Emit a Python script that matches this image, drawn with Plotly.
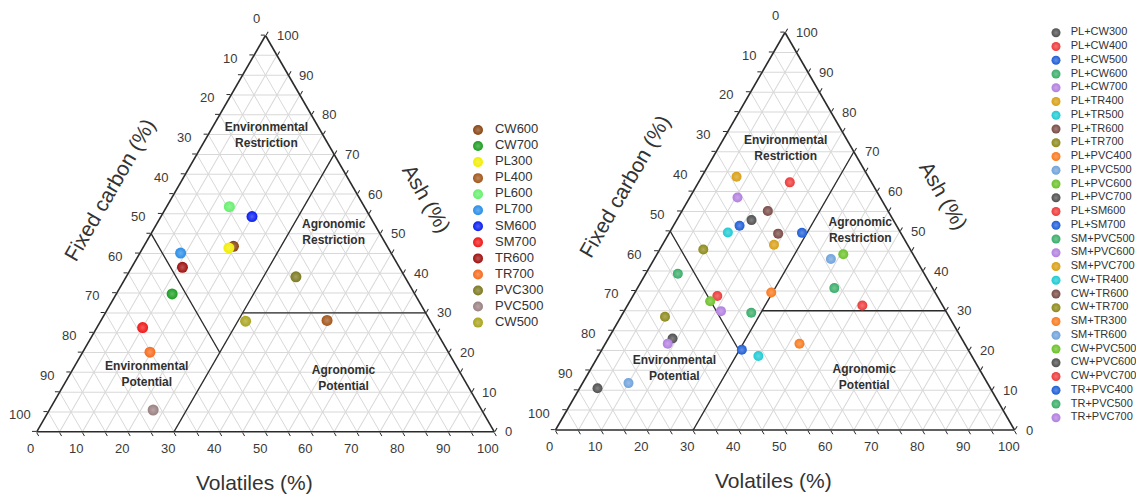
import plotly.graph_objects as go

FONT = "Liberation Sans, Arial, sans-serif"

# ---------------- data: left panel (single feedstocks) ----------------
left_names = ["CW600", "CW700", "PL300", "PL400", "PL600", "PL700", "SM600",
              "SM700", "TR600", "TR700", "PVC300", "PVC500", "CW500"]
left_colors = ["#8a4512", "#1c9e22", "#f2ee00", "#a3561a", "#66f06c", "#2a8ee8",
               "#0a1ef0", "#f01818", "#a01010", "#f76b1c", "#7c7a20", "#9a8082", "#aaa41c"]
left_ash = [46.8, 34.8, 46.4, 28.1, 56.8, 45.1, 54.3, 26.3, 41.5, 20.1, 39.1, 5.5, 27.9]
left_vol = [19.6, 12.2, 18.8, 49.4, 13.7, 8.9, 19.9, 10.0, 11.1, 14.7, 37.1, 22.7, 31.7]
left_fc = [33.6, 53.0, 34.8, 22.5, 29.5, 46.0, 25.8, 63.7, 47.4, 65.2, 23.8, 71.8, 40.4]

# ---------------- data: right panel (blends) ----------------
right_names = ["PL+CW300", "PL+CW400", "PL+CW500", "PL+CW600", "PL+CW700",
               "PL+TR400", "PL+TR500", "PL+TR600", "PL+TR700", "PL+PVC400",
               "PL+PVC500", "PL+PVC600", "PL+PVC700", "PL+SM600", "PL+SM700",
               "SM+PVC500", "SM+PVC600", "SM+PVC700", "CW+TR400", "CW+TR600",
               "CW+TR700", "SM+TR300", "SM+TR600", "CW+PVC500", "CW+PVC600",
               "CW+PVC700", "TR+PVC400", "TR+PVC500", "TR+PVC700"]
right_colors = ["#505050", "#ee3a3a", "#1f5fd8", "#3aae6a", "#b27fe0",
                "#d9a016", "#1ecbd4", "#7a4b47", "#8e8a1b", "#f97a1e",
                "#6fa3dc", "#6cc22a", "#505050", "#ee3a3a", "#1f5fd8",
                "#3aae6a", "#b27fe0", "#d9a016", "#1ecbd4", "#7a4b47",
                "#8e8a1b", "#f97a1e", "#6fa3dc", "#6cc22a", "#505050",
                "#ee3a3a", "#1f5fd8", "#3aae6a", "#b27fe0"]
right_ash = [52.8, 62.3, 51.4, 39.3, 58.5, 63.7, 49.7, 55.1, 45.4, 34.6,
             43.0, 44.2, 23.0, 33.7, 49.6, 29.5, 21.7, 46.6, 18.6, 49.4,
             28.5, 21.7, 11.8, 32.4, 10.5, 31.3, 20.2, 35.7, 29.9]
right_vol = [16.3, 19.9, 14.4, 7.0, 10.4, 7.6, 12.7, 18.7, 9.5, 29.7,
             38.5, 40.6, 14.0, 18.4, 28.9, 27.9, 13.6, 24.3, 34.9, 23.8,
             9.6, 42.3, 10.0, 17.5, 3.9, 51.2, 30.5, 42.9, 21.1]
right_fc = [30.9, 17.8, 34.2, 53.7, 31.1, 28.7, 37.6, 26.2, 45.1, 35.7,
            18.5, 15.2, 63.0, 47.9, 21.5, 42.6, 64.7, 29.1, 46.5, 26.8,
            61.9, 36.0, 78.2, 50.1, 85.6, 17.5, 49.3, 21.4, 49.0]

tick_values = [0, 10, 20, 30, 40, 50, 60, 70, 80, 90, 100]

# region boundaries (ash, volatiles, fixed carbon) endpoints
boundary_ash = [[50, 20], [0, 70], [30, 30]]
boundary_vol = [[0, 30], [30, 30], [30, 70]]
boundary_fc = [[50, 50], [70, 0], [40, 0]]

region_labels = ["<b>Environmental<br>Restriction</b>", "<b>Agronomic<br>Restriction</b>",
                 "<b>Environmental<br>Potential</b>", "<b>Agronomic<br>Potential</b>"]
left_region_ash = [74.6, 50.2, 14.3, 13.3]
left_region_vol = [12.9, 39.8, 16.9, 60.4]
right_region_ash = [70.7, 50.0, 15.4, 13.1]
right_region_vol = [14.8, 41.4, 18.2, 60.7]

FIG_W, FIG_H = 1136, 494

# triangle frames in pixels (left x, width, bottom y, height)
LEFT_TRI = (36.7, 457.6, 431.8, 396.3)
RIGHT_TRI = (555.5, 459.0, 430.0, 397.5)


def lighten(hexc, f):
    h = hexc.lstrip("#")
    r, g, b = int(h[0:2], 16), int(h[2:4], 16), int(h[4:6], 16)
    r = int(r + (255 - r) * f); g = int(g + (255 - g) * f); b = int(b + (255 - b) * f)
    return "#%02x%02x%02x" % (r, g, b)


def edge_px(tri, ash, vol):
    x0, w, yb, h = tri
    return x0 + w * (vol + ash / 2.0) / 100.0, yb - h * ash / 100.0


def add_panel(fig, subplot, names, colors, ash, vol, fc, msize, r_ash, r_vol):
    for ba, bv, bf in zip(boundary_ash, boundary_vol, boundary_fc):
        fig.add_trace(go.Scatterternary(a=ba, b=bf, c=bv, mode="lines",
                                        line=dict(color="#2b2b2b", width=1.3),
                                        subplot=subplot, showlegend=False, hoverinfo="skip"))
    for n, c, a, v, f in zip(names, colors, ash, vol, fc):
        fig.add_trace(go.Scatterternary(
            a=[a], b=[f], c=[v], mode="markers", name=n, subplot=subplot, showlegend=False,
            marker=dict(size=msize, color=c, line=dict(width=0),
                        gradient=dict(type="radial", color=lighten(c, 0.3)))))
    fig.add_trace(go.Scatterternary(
        a=r_ash, b=[100 - x - y for x, y in zip(r_ash, r_vol)], c=r_vol, mode="text",
        text=region_labels, textfont=dict(size=12, color="#303030", family=FONT),
        subplot=subplot, showlegend=False, hoverinfo="skip", cliponaxis=False))


def tick_annotations(tri):
    out = []
    tf = dict(size=13, color="#3a3a3a", family=FONT)
    for k in tick_values:
        # left edge: fixed carbon
        x, y = edge_px(tri, 100 - k, 0)
        out.append(dict(text=str(k), x=(x - 5) / FIG_W, y=(FIG_H - (y - 17)) / FIG_H,
                        xanchor="right", yanchor="middle", font=tf))
        # bottom edge: volatiles
        x, y = edge_px(tri, 0, k)
        out.append(dict(text=str(k), x=(x - 6) / FIG_W, y=(FIG_H - (y + 16.5)) / FIG_H,
                        xanchor="center", yanchor="middle", font=tf))
        # right edge: ash
        x, y = edge_px(tri, k, 100 - k)
        out.append(dict(text=str(k), x=(x + 10) / FIG_W, y=(FIG_H - y) / FIG_H,
                        xanchor="left", yanchor="middle", font=tf))
    for an in out:
        an.update(xref="paper", yref="paper", showarrow=False, borderpad=0)
    return out


def add_legend(fig, xa, ya, names, colors, msize, fsize, text_x):
    n = len(names)
    fig.add_trace(go.Scatter(x=[0] * n, y=list(range(n)), mode="markers", xaxis=xa, yaxis=ya,
                             marker=dict(size=msize, color=colors, line=dict(width=0),
                                         gradient=dict(type="radial", color=[lighten(c, 0.3) for c in colors])),
                             showlegend=False, hoverinfo="skip", cliponaxis=False))
    fig.add_trace(go.Scatter(x=[text_x] * n, y=list(range(n)), mode="text", text=names,
                             textposition="middle right", xaxis=xa, yaxis=ya,
                             textfont=dict(size=fsize, color="#333333", family=FONT),
                             showlegend=False, hoverinfo="skip", cliponaxis=False))


fig = go.Figure()
add_panel(fig, "ternary", left_names, left_colors, left_ash, left_vol, left_fc, 11,
          left_region_ash, left_region_vol)
add_panel(fig, "ternary2", right_names, right_colors, right_ash, right_vol, right_fc, 10,
          right_region_ash, right_region_vol)
add_legend(fig, "x", "y", left_names, left_colors, 10, 13, 0.207)
add_legend(fig, "x2", "y2", right_names, right_colors, 9, 11, 0.184)


def tern_axis():
    return dict(title=dict(text=""), showticklabels=False, ticks="outside", ticklen=4,
                tickwidth=1.2, tickcolor="#2b2b2b", dtick=5, tick0=0,
                showline=True, linecolor="#2b2b2b", linewidth=1.6,
                showgrid=True, gridcolor="#d8d8d8", gridwidth=0.7)


def ternary(dx, dy):
    return dict(sum=100, bgcolor="white", domain=dict(x=dx, y=dy),
                aaxis=tern_axis(), baxis=tern_axis(), caxis=tern_axis())


fig.update_layout(
    width=FIG_W, height=FIG_H,
    margin=dict(l=0, r=0, t=0, b=0),
    paper_bgcolor="white", plot_bgcolor="rgba(0,0,0,0)",
    font=dict(family=FONT, color="#333333"),
    showlegend=False,
    ternary=ternary([36.7 / FIG_W, 494.3 / FIG_W], [(FIG_H - 432.3) / FIG_H, (FIG_H - 35) / FIG_H]),
    ternary2=ternary([555.5 / FIG_W, 1014.5 / FIG_W], [(FIG_H - 430) / FIG_H, (FIG_H - 32.5) / FIG_H]),
    xaxis=dict(domain=[478 / FIG_W, 560 / FIG_W], range=[0, 1], visible=False, fixedrange=True),
    yaxis=dict(domain=[(FIG_H - 130 - 13 * 16.05 + 8.03) / FIG_H, (FIG_H - 130 + 8.03) / FIG_H],
               range=[12.5, -0.5], visible=False, fixedrange=True),
    xaxis2=dict(domain=[1056 / FIG_W, 1.0], range=[0, 1], visible=False, fixedrange=True, anchor="y2"),
    yaxis2=dict(domain=[(FIG_H - 32.7 - 29 * 13.75 + 6.875) / FIG_H, (FIG_H - 32.7 + 6.875) / FIG_H],
                range=[28.5, -0.5], visible=False, fixedrange=True, anchor="x2"),
)

title_font = dict(size=21, color="#333333", family=FONT)
annotations = [
    dict(text="Fixed carbon (%)", x=110 / FIG_W, y=(FIG_H - 190) / FIG_H, textangle=-60),
    dict(text="Ash (%)", x=427 / FIG_W, y=(FIG_H - 198) / FIG_H, textangle=60),
    dict(text="Volatiles (%)", x=254 / FIG_W, y=(FIG_H - 482) / FIG_H, textangle=0),
    dict(text="Fixed carbon (%)", x=624 / FIG_W, y=(FIG_H - 186) / FIG_H, textangle=-60),
    dict(text="Ash (%)", x=944 / FIG_W, y=(FIG_H - 195) / FIG_H, textangle=60),
    dict(text="Volatiles (%)", x=773 / FIG_W, y=(FIG_H - 480) / FIG_H, textangle=0),
]
for an in annotations:
    an.update(xref="paper", yref="paper", showarrow=False, font=title_font,
              xanchor="center", yanchor="middle")
annotations += tick_annotations(LEFT_TRI) + tick_annotations(RIGHT_TRI)
fig.update_layout(annotations=annotations)

fig.write_html("out.html")
